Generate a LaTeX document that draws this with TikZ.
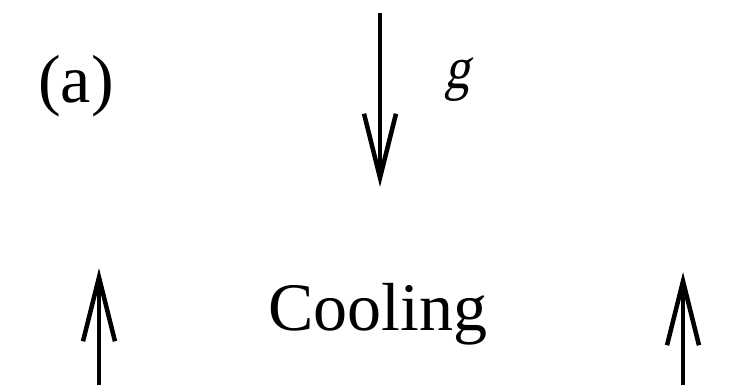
\documentclass[tikz,border=0pt]{standalone}
\usepackage{fontspec}
\setmainfont{Liberation Serif}
\newfontfamily\slantg[FakeSlant=0.2,FakeStretch=0.85]{Liberation Serif}
\usetikzlibrary{arrows.meta}
\begin{document}
\begin{tikzpicture}[x=1bp,y=-1bp,
  lbl/.style={inner sep=0pt,font=\fontsize{68bp}{74bp}\selectfont},
  vec/.style={line width=4.5bp,-{Straight Barb[length=64bp,width=32bp,line width=4.5bp]}}]
\useasboundingbox (0,0) rectangle (743,385);
\node[lbl,anchor=base west] (a) at (38,102) {(a)};
\node[inner sep=0pt,anchor=base west,font=\slantg\fontsize{60bp}{66bp}\selectfont] (g) at (444,88) {g};
\node[lbl,anchor=base] (cool) at (378,330) {Cooling};
\coordinate (gs) at (380,13);
\coordinate (ge) at (380,187);
\coordinate (ls) at (99,385);
\coordinate (le) at (99,268);
\coordinate (rs) at (683,385);
\coordinate (re) at (683,272);
\draw[vec] (gs) -- (ge);
\draw[vec] (ls) -- (le);
\draw[vec] (rs) -- (re);
\end{tikzpicture}
\end{document}
